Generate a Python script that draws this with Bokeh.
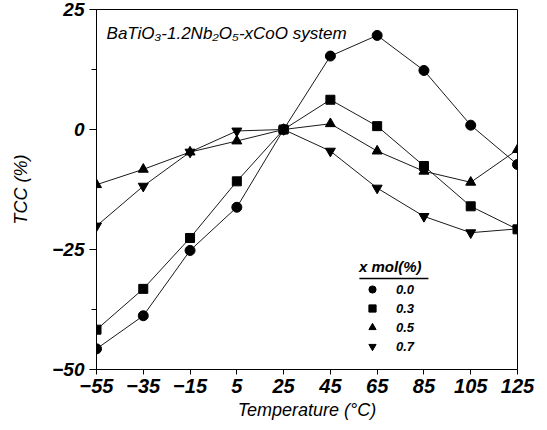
from bokeh.plotting import figure
from bokeh.models import Range1d, FixedTicker, Legend, LegendItem, Label, BoxAnnotation
from bokeh.embed import file_html
from bokeh.resources import INLINE

# ---- data ----
temps = [-55, -35, -15, 5, 25, 45, 65, 85, 105, 125]
tcc_00 = [-45.7, -38.8, -25.2, -16.2, 0.0, 15.3, 19.6, 12.3, 0.9, -7.3]
tcc_03 = [-41.7, -33.2, -22.6, -10.8, 0.0, 6.2, 0.7, -7.6, -16.0, -20.8]
tcc_05 = [-11.5, -8.3, -4.7, -2.4, 0.0, 1.2, -4.5, -8.7, -11.0, -4.2]
tcc_07 = [-20.1, -11.8, -4.7, -0.3, 0.0, -4.5, -12.2, -18.1, -21.5, -20.7]
series_labels = ["0.0", "0.3", "0.5", "0.7"]
x_ticks = temps
y_ticks = [-50, -25, 0, 25]
y_minor = [-37.5, 12.5]
title_text = "BaTiO\u2083-1.2Nb\u2082O\u2085-xCoO system"
legend_title = "x mol(%)"

FONT = "Liberation Sans"

p = figure(width=538, height=424,
           x_range=Range1d(-55, 125), y_range=Range1d(-50, 25),
           output_backend="svg", toolbar_location=None,
           min_border_left=96, min_border_right=21,
           min_border_top=9, min_border_bottom=55)
p.grid.visible = False
p.outline_line_color = "black"
p.outline_line_width = 1
p.background_fill_color = "white"
p.border_fill_color = "white"

# x axis
xa = p.xaxis[0]
xa.ticker = FixedTicker(ticks=x_ticks)
xa.major_tick_out = 5
xa.major_tick_in = 0
xa.minor_tick_out = 0
xa.minor_tick_in = 0
xa.axis_line_color = "black"
xa.major_tick_line_color = "black"
xa.major_label_text_font = FONT
xa.major_label_text_font_style = "bold italic"
xa.major_label_text_font_size = "20px"
xa.major_label_text_color = "black"
xa.major_label_standoff = 4
xa.axis_label = "Temperature (\u00b0C)"
xa.axis_label_text_font = FONT
xa.axis_label_text_font_style = "italic"
xa.axis_label_text_font_size = "18px"
xa.axis_label_text_color = "black"
xa.axis_label_standoff = 4

# y axis
ya = p.yaxis[0]
ya.ticker = FixedTicker(ticks=y_ticks, minor_ticks=y_minor)
ya.major_tick_out = 7
ya.major_tick_in = 0
ya.minor_tick_out = 5
ya.minor_tick_in = 0
ya.axis_line_color = "black"
ya.major_tick_line_color = "black"
ya.minor_tick_line_color = "black"
ya.major_label_text_font = FONT
ya.major_label_text_font_style = "bold italic"
ya.major_label_text_font_size = "19px"
ya.major_label_text_color = "black"
ya.major_label_standoff = 5
ya.axis_label = "TCC (%)"
ya.axis_label_text_font = FONT
ya.axis_label_text_font_style = "italic"
ya.axis_label_text_font_size = "18px"
ya.axis_label_text_color = "black"
ya.axis_label_standoff = 18

LINE = "#1a1a1a"
series = [tcc_00, tcc_03, tcc_05, tcc_07]
markers = ["circle", "square", "triangle", "inverted_triangle"]
sizes = [10, 9, 10, 10]
items = []
for vals, mk, sz, lab in zip(series, markers, sizes, series_labels):
    p.line(temps, vals, line_color=LINE, line_width=1)
    r = p.scatter(temps, vals, marker=mk, size=sz, fill_color="black", line_color="black")
    items.append(LegendItem(label=lab, renderers=[r]))

legend = Legend(items=items, location=(263, 14),
                title=legend_title,
                title_text_font=FONT, title_text_font_style="bold italic",
                title_text_font_size="15px", title_text_color="black",
                title_standoff=5,
                label_text_font=FONT, label_text_font_style="bold italic",
                label_text_font_size="13px", label_text_color="black",
                glyph_width=26, glyph_height=18, label_height=18,
                label_standoff=11, spacing=1, padding=0, margin=0,
                background_fill_alpha=0, border_line_alpha=0)
p.add_layout(legend, "center")

# underline of legend title
p.add_layout(BoxAnnotation(left=57.4, right=86.9, top=-30.9, bottom=-31.2,
                           fill_color="black", fill_alpha=1, line_alpha=0))

p.add_layout(Label(x=-50.7, y=20, text=title_text, text_font=FONT,
                   text_font_style="italic", text_font_size="17px",
                   text_baseline="middle", text_color="black"))

open("out.html", "w").write(file_html(p, INLINE))
